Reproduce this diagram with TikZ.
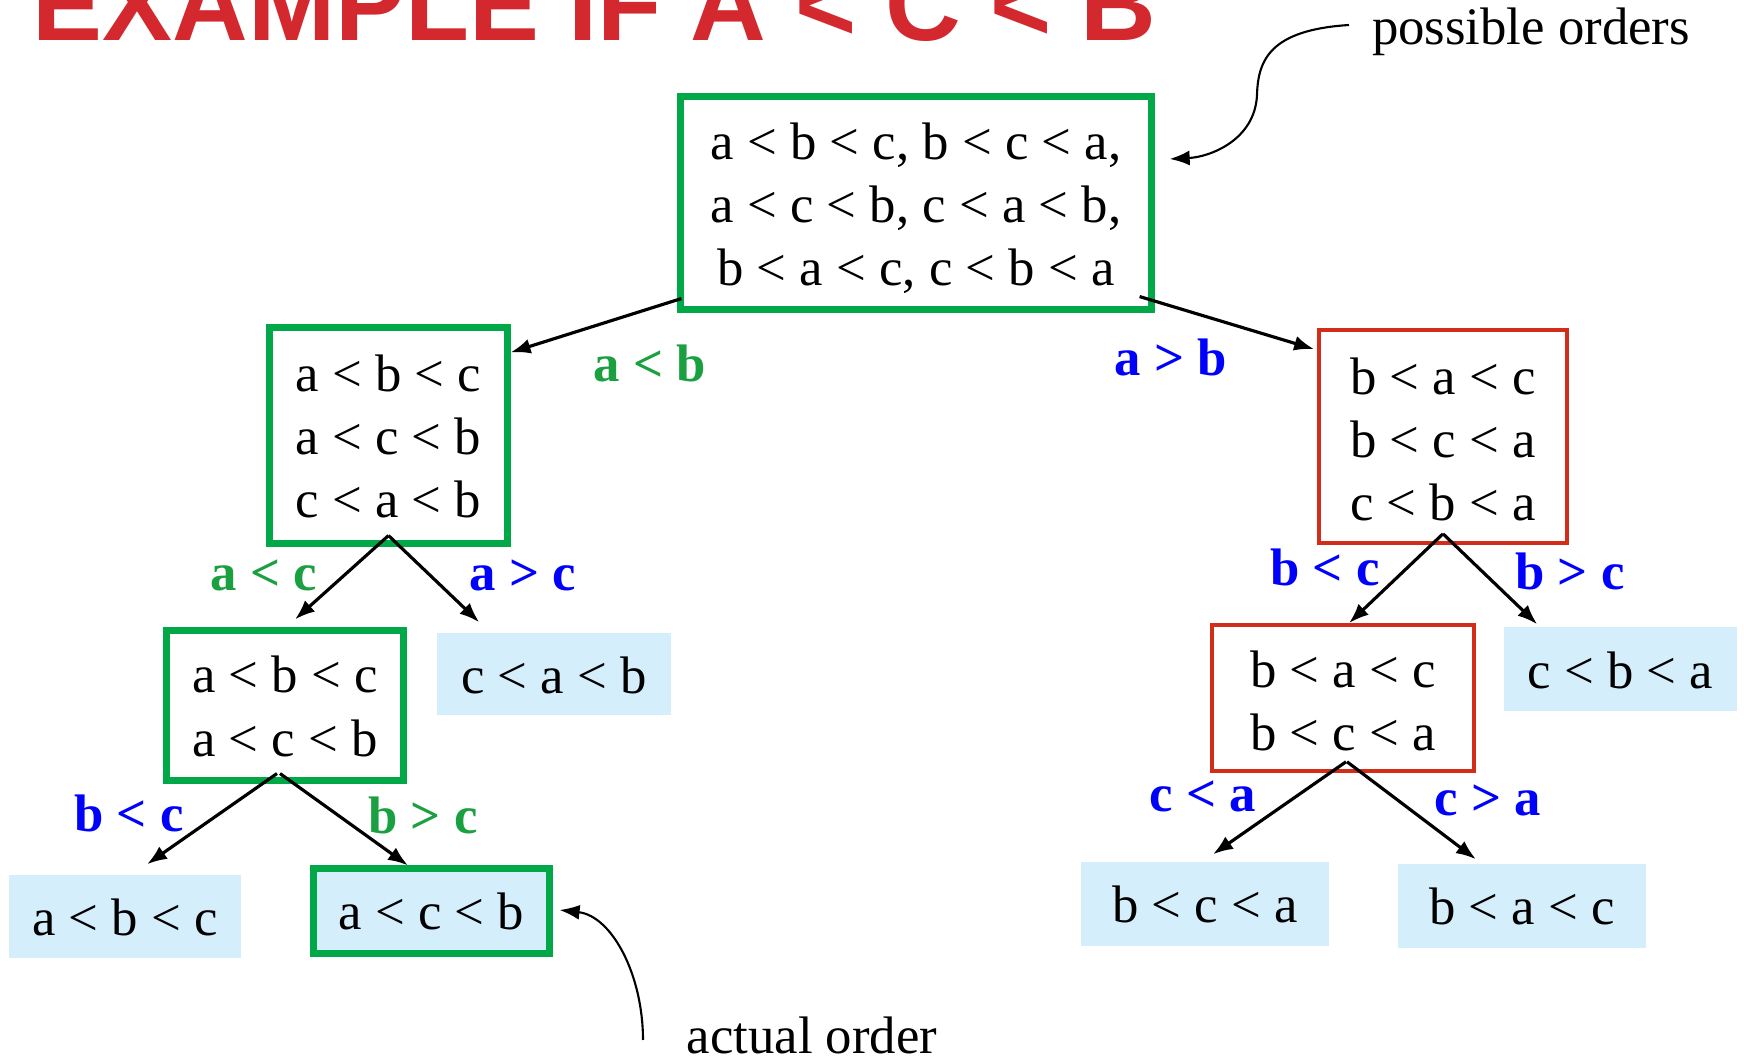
\documentclass[tikz,border=0pt]{standalone}
\usepackage{fontspec}
\setmainfont{Liberation Serif}
\newfontfamily\titlefont{Liberation Sans}
\usetikzlibrary{arrows.meta}

\definecolor{boxgreen}{RGB}{0,168,72}
\definecolor{lblgreen}{RGB}{26,160,64}
\definecolor{lblblue}{RGB}{0,0,255}
\definecolor{boxred}{RGB}{210,45,25}
\definecolor{leafblue}{RGB}{213,238,252}
\definecolor{titlered}{RGB}{210,40,46}

\tikzset{
    orders/.style={rectangle, align=center, inner sep=0pt, font=\fontsize{15}{18}\selectfont},
    stillok/.style={orders, draw=boxgreen, line width=2pt},
    ruledout/.style={orders, draw=boxred, line width=1pt},
    leaf/.style={orders, fill=leafblue},
    takenlbl/.style={font=\bfseries\fontsize{15}{18}\selectfont, text=lblgreen},
    otherlbl/.style={font=\bfseries\fontsize{15}{18}\selectfont, text=lblblue},
    branch/.style={->, line width=0.9pt},
    callout/.style={->, line width=0.6pt},
}

\begin{document}
\begin{tikzpicture}[x=0.01cm, y=-0.01cm, >={Latex[length=0.2cm,width=0.15cm]}]
    \useasboundingbox (0,0) rectangle (1744,1061);
    \clip (0,0) rectangle (1744,1061);

    % 1. Tiêu đề (bị cắt ở mép trên)
    \node[anchor=base west, inner sep=0pt, text=titlered,
          font=\titlefont\bfseries\fontsize{29.8}{36}\selectfont] (title) at (32,41)
        {EXAMPLE IF A < C < B};

    % 2. Các hộp thứ tự
    \node[stillok, minimum width=4.7cm, minimum height=2.12cm] (root) at (916,203)
        {\rule{0pt}{13.5pt}a < b < c, b < c < a,\\ a < c < b, c < a < b,\\ b < a < c, c < b < a};
    \node[stillok, minimum width=2.37cm, minimum height=2.15cm] (l1) at (388.5,435.5)
        {\rule{0pt}{11pt}a < b < c\\ a < c < b\\ c < a < b};
    \node[ruledout, minimum width=2.48cm, minimum height=2.13cm] (r1) at (1443,436.5)
        {\rule{0pt}{12pt}b < a < c\\ b < c < a\\ c < b < a};
    \node[stillok, minimum width=2.36cm, minimum height=1.49cm] (l2) at (285,705.5)
        {\rule{0pt}{11pt}a < b < c\\ a < c < b};
    \node[leaf, minimum width=2.34cm, minimum height=0.82cm] (lcab) at (554,674) {\rule{0pt}{11pt}c < a < b};
    \node[ruledout, minimum width=2.62cm, minimum height=1.46cm] (r2) at (1343,698)
        {\rule{0pt}{12pt}b < a < c\\ b < c < a};
    \node[leaf, minimum width=2.33cm, minimum height=0.84cm] (rcba) at (1620.5,669) {\rule{0pt}{11pt}c < b < a};

    % 3. Các lá
    \node[leaf, minimum width=2.32cm, minimum height=0.83cm] (labc) at (125,916.5) {\rule{0pt}{11pt}a < b < c};
    \node[leaf, stillok, minimum width=2.35cm, minimum height=0.84cm] (lacb) at (431.5,911) {a < c < b};
    \node[leaf, minimum width=2.48cm, minimum height=0.84cm] (rbca) at (1205,904) {b < c < a};
    \node[leaf, minimum width=2.48cm, minimum height=0.84cm] (rbac) at (1522,906) {b < a < c};

    % 4. Các nhánh so sánh
    \draw[branch] ([xshift=0.04cm,yshift=0.14cm]root.south west) -- ([yshift=-0.28cm]l1.north east);
    \draw[branch] ([xshift=-0.15cm,yshift=0.16cm]root.south east) -- ([xshift=-0.03cm,yshift=-0.21cm]r1.north west);
    \draw[branch] ([yshift=0.11cm]l1.south) -- ([xshift=0.1cm,yshift=0.08cm]l2.north);
    \draw[branch] ([yshift=0.11cm]l1.south) -- ([xshift=0.43cm,yshift=0.1cm]lcab.north west);
    \draw[branch] ([xshift=-0.08cm,yshift=0.1cm]l2.south) -- ([xshift=0.22cm,yshift=0.1cm]labc.north);
    \draw[branch] ([xshift=-0.05cm,yshift=0.1cm]l2.south) -- ([xshift=-0.235cm]lacb.north);
    \draw[branch] ([yshift=0.11cm]r1.south) -- ([xshift=0.06cm]r2.north);
    \draw[branch] ([yshift=0.11cm]r1.south) -- ([xshift=0.34cm,yshift=0.02cm]rcba.north west);
    \draw[branch] ([xshift=0.03cm,yshift=0.11cm]r2.south) -- ([xshift=0.08cm,yshift=0.07cm]rbca.north);
    \draw[branch] ([xshift=0.04cm,yshift=0.11cm]r2.south) -- ([xshift=-0.46cm,yshift=0.04cm]rbac.north);

    % 5. Nhãn trên các nhánh
    \node[takenlbl] (ab) at (650,363) {a < b};
    \node[otherlbl] (ba) at (1171,357) {a > b};
    \node[takenlbl] (ac) at (264,575) {a < c};
    \node[otherlbl] (ca) at (523,575) {a > c};
    \node[otherlbl] (bcl) at (129,813) {b < c};
    \node[takenlbl] (cbl) at (423,815) {b > c};
    \node[otherlbl] (bcr) at (1325,567) {b < c};
    \node[otherlbl] (cbr) at (1570,571) {b > c};
    \node[otherlbl] (cab) at (1203,796) {c < a};
    \node[otherlbl] (acb) at (1488,800) {c > a};

    % 6. Chú thích
    \node[anchor=base, inner sep=0pt, font=\fontsize{15}{18}\selectfont] (possible) at (1531,45) {possible orders};
    \coordinate (possiblefrom) at (1349,25);
    \draw[callout] (possiblefrom) .. controls (1270,30) and (1258,60) .. (1257,95)
        .. controls (1255,140) and (1210,157) .. ([xshift=0.15cm,yshift=0.44cm]root.east);

    \node[anchor=base, inner sep=0pt, font=\fontsize{15}{18}\selectfont] (actual) at (812,1054) {actual order};
    \coordinate (actualfrom) at (643,1040);
    \draw[callout] (actualfrom) .. controls (643,975) and (612,916) .. ([xshift=0.07cm,yshift=0.01cm]lacb.east);
\end{tikzpicture}
\end{document}
